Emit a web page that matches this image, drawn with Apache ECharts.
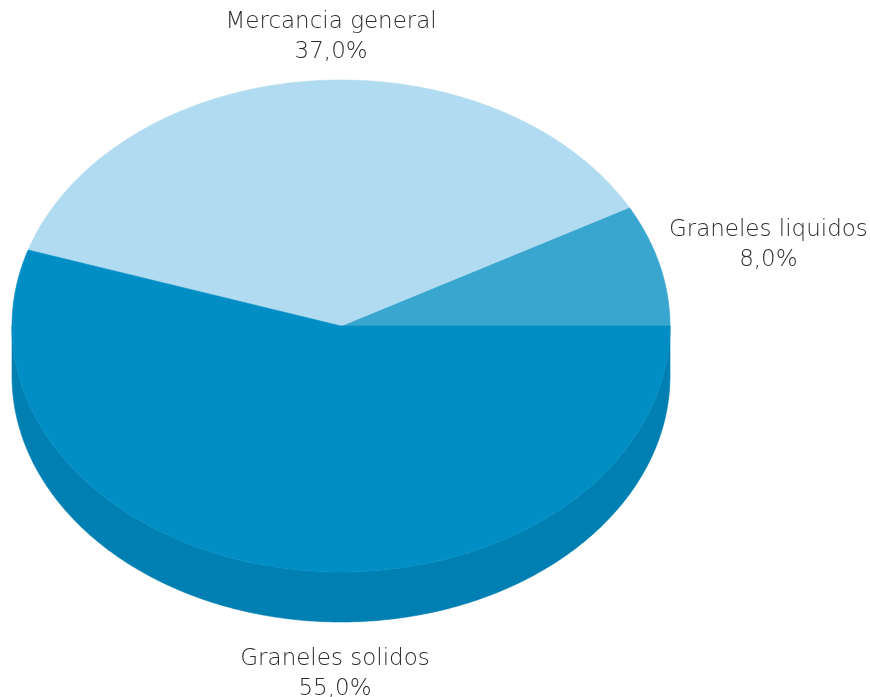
<!DOCTYPE html>
<html><head><meta charset="utf-8">
<script src="https://cdn.jsdelivr.net/npm/echarts@6/dist/echarts.min.js"></script>
<style>html,body{margin:0;padding:0;background:#fff}#main{width:870px;height:697px}</style>
</head><body><div id="main"></div>
<script>
// ---- data ----
const categories = ['Graneles liquidos', 'Mercancia general', 'Graneles solidos'];
const values = [8.0, 37.0, 55.0];

// ---- style / layout ----
const topColors = ['#38a6cf', '#b1dbf0', '#008ec5'];
const sideColors = ['#2d8fb6', '#98c6dc', '#0080b2'];
const CX = 341, CY = 326, RX = 329, RY = 246, DEPTH = 50;
const LABEL_GAP = 10;
const labelNudge = [[99, -17], [22, -34], [47, 45]];

const total = values.reduce((a, b) => a + b, 0);
function ellPt(t, dy) { return [CX + RX * Math.cos(t), CY - RY * Math.sin(t) + (dy || 0)]; }
function arcPts(a0, a1, dy) {
  const n = Math.max(2, Math.ceil(Math.abs(a1 - a0) / 0.01));
  const pts = [];
  for (let i = 0; i <= n; i++) pts.push(ellPt(a0 + (a1 - a0) * i / n, dy));
  return pts;
}
function fmtPct(v) { return (v / total * 100).toFixed(1).replace('.', ',') + '%'; }

function renderItem(params, api) {
  const i = params.dataIndex;
  const v = api.value(0);
  let before = 0;
  for (let k = 0; k < i; k++) before += values[k];
  const a0 = before / total * Math.PI * 2;
  const a1 = (before + v) / total * Math.PI * 2;
  const children = [];
  // visible outer side wall (front half)
  const s = Math.max(a0, Math.PI), e = Math.min(a1, Math.PI * 2);
  if (s < e) {
    const pts = arcPts(s, e, 0).concat(arcPts(e, s, DEPTH));
    children.push({ type: 'polygon', z2: 1, shape: { points: pts },
      style: { fill: sideColors[i], stroke: sideColors[i], lineWidth: 0.6 } });
  }
  // top face
  const topPts = [[CX, CY]].concat(arcPts(a0, a1, 0));
  children.push({ type: 'polygon', z2: 2, shape: { points: topPts },
    style: { fill: topColors[i], stroke: topColors[i], lineWidth: 0.6 } });
  // label
  const mid = (a0 + a1) / 2;
  const c = Math.cos(mid), sn = Math.sin(mid);
  const lx = CX + (RX + LABEL_GAP) * c + labelNudge[i][0];
  const ly = CY - (RY + LABEL_GAP) * sn + (sn < 0 ? DEPTH : 0) + labelNudge[i][1];
  children.push({ type: 'text', z2: 3, style: {
    text: categories[i] + '\n' + fmtPct(v), x: lx, y: ly,
    align: 'center', verticalAlign: 'middle',
    fontFamily: 'DejaVu Sans', fontWeight: 200, fontSize: 23, lineHeight: 30, fill: '#2b2b2b'
  } });
  return { type: 'group', children: children };
}

const chart = echarts.init(document.getElementById('main'), null, { renderer: 'canvas' });
chart.setOption({
  animation: false,
  series: [{
    type: 'custom',
    coordinateSystem: 'none',
    renderItem: renderItem,
    data: values.map((v, i) => ({ name: categories[i], value: v }))
  }]
});
</script></body></html>
